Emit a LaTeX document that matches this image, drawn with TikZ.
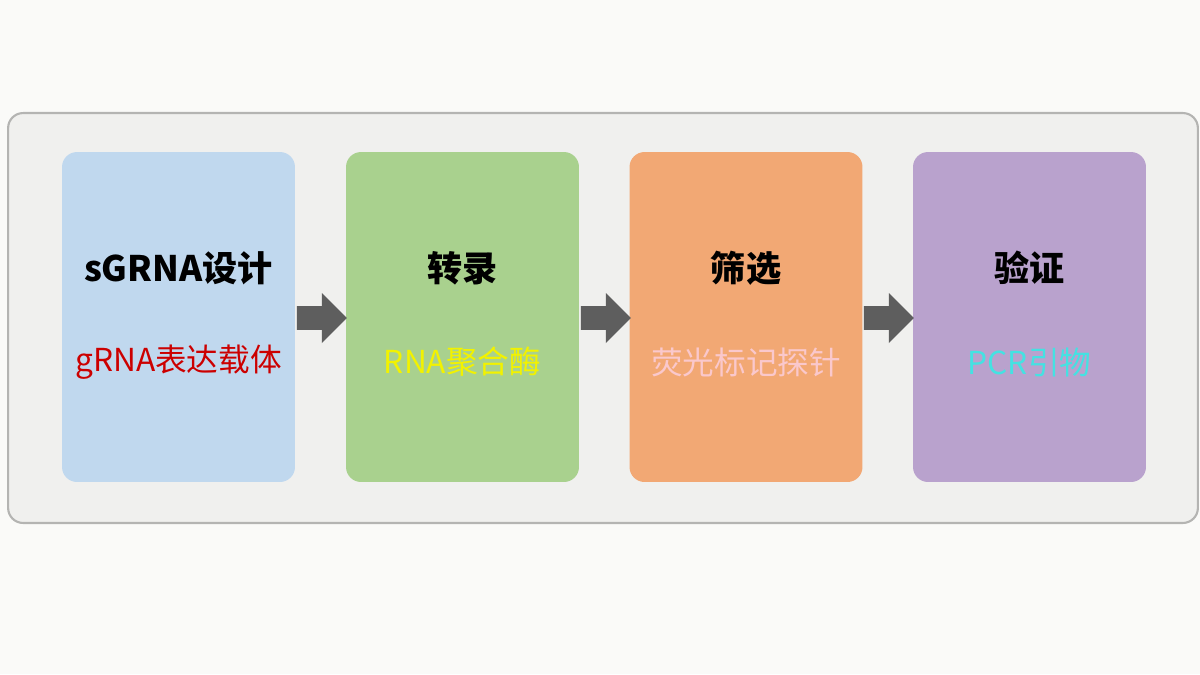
\documentclass[tikz,border=0pt]{standalone}
\usepackage{fontspec}
\setmainfont{Noto Sans CJK SC}
\usetikzlibrary{shapes.arrows}
\definecolor{bg}{HTML}{FAFAF8}
\definecolor{panel}{HTML}{F0F0EE}
\definecolor{panelline}{HTML}{B4B4B2}
\definecolor{cblue}{HTML}{C0D8EE}
\definecolor{cgreen}{HTML}{A9D18E}
\definecolor{corange}{HTML}{F2A874}
\definecolor{cpurple}{HTML}{B9A2CD}
\definecolor{tred}{HTML}{CC0000}
\definecolor{tyellow}{HTML}{F2F200}
\definecolor{tpink}{HTML}{FAC8CC}
\definecolor{tcyan}{HTML}{44E2E2}
\definecolor{arr}{HTML}{5E5E5E}
\begin{document}
\begin{tikzpicture}[x=0.02cm,y=-0.02cm,
  stepbox/.style={rounded corners=0.3cm,minimum width=4.66cm,minimum height=6.6cm,draw=none,inner sep=0},
  ttl/.style={font=\bfseries\fontsize{20}{24}\selectfont,text=black},
  sub/.style={font=\fontsize{18}{22}\selectfont},
  blk/.style={single arrow,fill=arr,draw=none,minimum height=1.0cm,minimum width=1.0cm,single arrow head extend=0.12cm,inner sep=0.1cm}]
\fill[bg] (0,0) rectangle (1200,674);
\useasboundingbox (0,0) rectangle (1200,674);
\node[draw=panelline,line width=1.2pt,fill=panel,rounded corners=0.3cm,minimum width=23.8cm,minimum height=8.2cm] (panel) at (603,318) {};
\node[stepbox,fill=cblue] (s1) at (178.5,317) {};
\node[stepbox,fill=cgreen] (s2) at (462.5,317) {};
\node[stepbox,fill=corange] (s3) at (746,317) {};
\node[stepbox,fill=cpurple] (s4) at (1029.5,317) {};
\node[ttl] (t1) at (178.5,268) {sGRNA设计};
\node[ttl] (t2) at (462.5,268) {转录};
\node[ttl] (t3) at (746,268) {筛选};
\node[ttl] (t4) at (1029.5,268) {验证};
\node[sub,text=tred] (u1) at (178.5,362) {gRNA表达载体};
\node[sub,text=tyellow] (u2) at (462.5,362) {RNA聚合酶};
\node[sub,text=tpink] (u3) at (746,362) {荧光标记探针};
\node[sub,text=tcyan] (u4) at (1029.5,362) {PCR引物};
\node[blk] (a1) at (316,318) {};
\node[blk] (a2) at (600,318) {};
\node[blk] (a3) at (883,318) {};
\end{tikzpicture}
\end{document}
